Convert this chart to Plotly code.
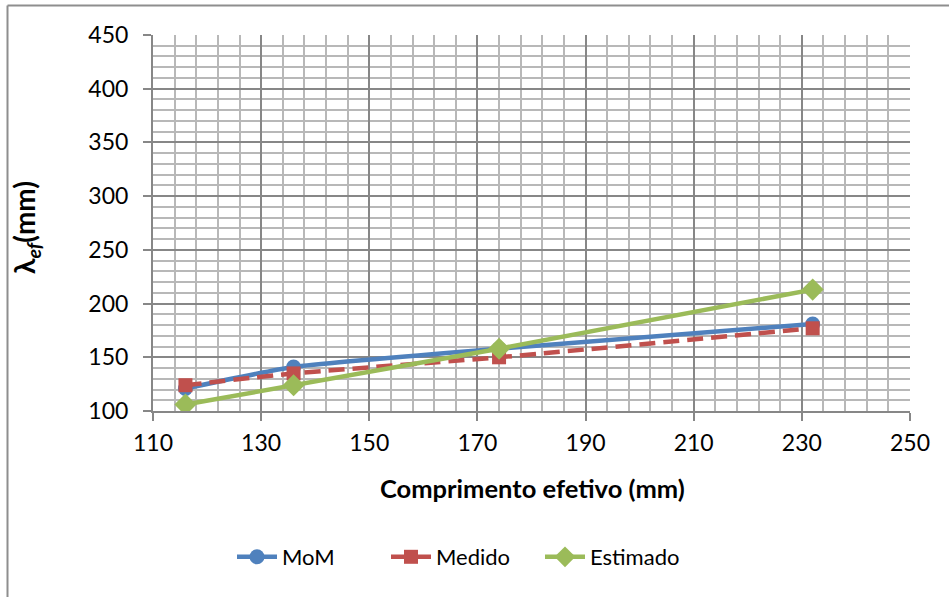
import plotly.graph_objects as go

# Effective length (mm) and the three series of lambda_ef (mm)
comprimento = [116, 136, 174, 232]
mom = [121, 141, 158, 181]
medido = [124, 135, 150, 177]
estimado = [106, 124, 158, 213]

x_ticks = [110, 130, 150, 170, 190, 210, 230, 250]
y_ticks = [100, 150, 200, 250, 300, 350, 400, 450]

FONT = "Lato"
BLUE = "#4F81BD"
RED = "#C0504D"
GREEN = "#9BBB59"
MAJOR = "#878787"
MINOR = "#B8B8B8"

W, H = 949, 597
L, R, T, B = 153, 39, 35, 186
PW, PH = W - L - R, H - T - B


def px_x(p):
    return (p - L) / PW


def px_y(p):
    return (H - B - p) / PH


fig = go.Figure()

fig.add_trace(go.Scatter(
    x=comprimento, y=mom, name="MoM", mode="lines+markers",
    line=dict(color=BLUE, width=4.5, shape="spline", smoothing=0.5),
    marker=dict(symbol="circle", size=15, color=BLUE),
))
fig.add_trace(go.Scatter(
    x=comprimento, y=medido, name="Medido", mode="lines+markers",
    line=dict(color=RED, width=4.5, dash="16px,8px", shape="spline", smoothing=0.5),
    marker=dict(symbol="square", size=14, color=RED),
))
fig.add_trace(go.Scatter(
    x=comprimento, y=estimado, name="Estimado", mode="lines+markers",
    line=dict(color=GREEN, width=4.5),
    marker=dict(symbol="diamond", size=17, color=GREEN),
))

axis_common = dict(
    showline=True, linecolor=MAJOR, linewidth=2,
    showgrid=True, gridcolor=MAJOR, gridwidth=1.5,
    ticks="outside", tickcolor=MAJOR, tickwidth=2, ticklen=8,
    tickfont=dict(family=FONT, size=23, color="#000000"),
    zeroline=False, fixedrange=True,
)

fig.update_xaxes(
    range=[110, 250], tickvals=x_ticks, ticktext=[str(v) for v in x_ticks],
    minor=dict(dtick=4, tick0=110, showgrid=True, gridcolor=MINOR, gridwidth=1.5, ticks=""),
    ticklabelstandoff=2, **axis_common,
)
fig.update_yaxes(
    range=[100, 450], tickvals=y_ticks, ticktext=[str(v) for v in y_ticks],
    minor=dict(dtick=10, tick0=100, showgrid=True, gridcolor=MINOR, gridwidth=1.5, ticks=""),
    ticklabelstandoff=10, **axis_common,
)

annotations = [
    dict(text="<b>Comprimento efetivo (mm)</b>", x=px_x(532), y=px_y(488),
         xref="paper", yref="paper", showarrow=False, xanchor="center", yanchor="middle",
         font=dict(family=FONT, size=25.5, color="#000000")),
    dict(text="<b>λ<sub><i>ef</i></sub>(mm)</b>", x=px_x(26), y=px_y(227),
         xref="paper", yref="paper", showarrow=False, xanchor="center", yanchor="middle",
         textangle=-90, font=dict(family=FONT, size=28, color="#000000")),
]

# Chart-area frame (left and top edges)
shapes = [
    dict(type="line", xref="paper", yref="paper", x0=px_x(7.5), x1=px_x(7.5),
         y0=px_y(5.5), y1=px_y(620), line=dict(color="#8E8E8E", width=2)),
    dict(type="line", xref="paper", yref="paper", x0=px_x(7.5), x1=px_x(970),
         y0=px_y(5.5), y1=px_y(5.5), line=dict(color="#8E8E8E", width=2)),
]

fig.update_layout(
    width=W, height=H,
    margin=dict(l=L, r=R, t=T, b=B),
    paper_bgcolor="#FFFFFF", plot_bgcolor="#FFFFFF",
    showlegend=True,
    legend=dict(orientation="h", x=px_x(232), y=px_y(557), xanchor="left", yanchor="middle",
                font=dict(family=FONT, size=22, color="#000000"),
                entrywidth=99, itemwidth=40, bgcolor="rgba(0,0,0,0)"),
    annotations=annotations,
    shapes=shapes,
)

fig.write_html("out.html")
